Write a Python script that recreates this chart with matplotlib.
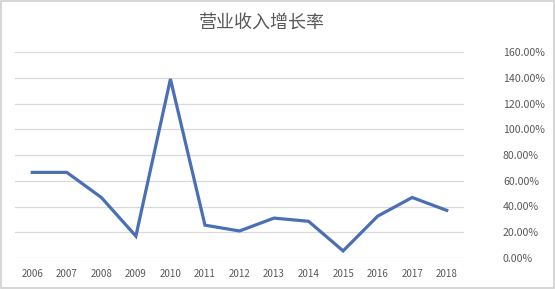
import matplotlib.pyplot as plt
from matplotlib.ticker import FuncFormatter
from matplotlib.patches import Rectangle

plt.rcParams['font.family'] = ['Noto Sans CJK SC', 'DejaVu Sans']

years = ['2006', '2007', '2008', '2009', '2010', '2011', '2012',
         '2013', '2014', '2015', '2016', '2017', '2018']
growth = [66.5, 66.5, 47.0, 17.0, 139.0, 25.5, 21.0,
          31.0, 28.5, 5.5, 32.5, 47.0, 37.0]
yticks = [0, 20, 40, 60, 80, 100, 120, 140, 160]

fig = plt.figure(figsize=(5.55, 2.89), dpi=100)
ax = fig.add_axes([15 / 555, 31 / 289, 449 / 555, 206 / 289])

x = range(len(years))
ax.plot(x, growth, color='#4a6fb5', lw=2.3, solid_joinstyle='miter')

ax.set_xlim(-0.5, len(years) - 0.5)
ax.set_ylim(0, 160)
ax.set_yticks(yticks)
ax.yaxis.set_major_formatter(FuncFormatter(lambda v, p: f'{v:.2f}%'))
ax.yaxis.tick_right()
ax.set_xticks(list(x))
ax.set_xticklabels(years)
ax.tick_params(axis='both', length=0, labelsize=7, colors='#595959')
ax.tick_params(axis='x', pad=8)
ax.tick_params(axis='y', labelsize=7.6, pad=28)
ax.grid(axis='y', color='#d9d9d9', lw=0.9)
ax.set_axisbelow(True)
for s in ax.spines.values():
    s.set_visible(False)

fig.text(0.472, 0.92, '营业收入增长率', ha='center', va='center',
         fontsize=13, color='#595959')

# light frame around the picture
fig.patches.append(Rectangle((0.002, 0.003), 0.996, 0.994, transform=fig.transFigure,
                             fill=False, ec='#d0d0d0', lw=1.2))

fig.savefig('out.png', dpi=100)
